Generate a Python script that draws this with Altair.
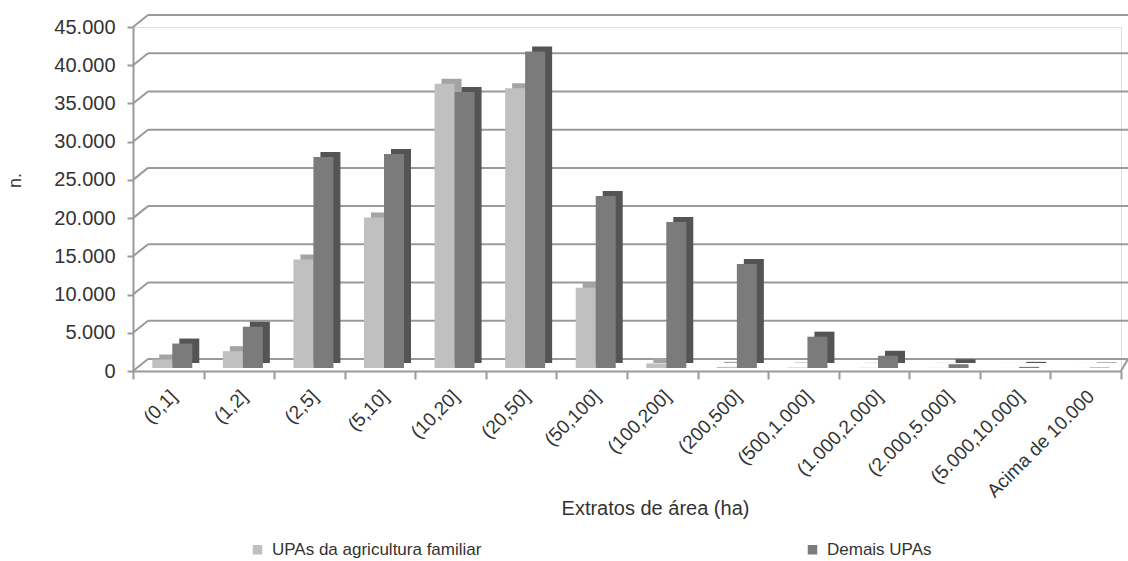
import altair as alt
import pandas as pd

categories = ["(0,1]", "(1,2]", "(2,5]", "(5,10]", "(10,20]", "(20,50]", "(50,100]",
              "(100,200]", "(200,500]", "(500,1.000]", "(1.000,2.000]", "(2.000,5.000]",
              "(5.000,10.000]", "Acima de 10.000"]
familiar = [1100, 2200, 14200, 19700, 37200, 36600, 10500, 600, 150, 60, 30, 20, 10, 5]
demais = [3200, 5400, 27600, 28000, 36100, 41400, 22500, 19100, 13600, 4100, 1600, 500, 150, 60]
series = ["UPAs da agricultura familiar", "Demais UPAs"]
yticks = list(range(0, 45001, 5000))

df_a = pd.DataFrame({"cat": categories, "serie": series[0], "v": familiar})
df_b = pd.DataFrame({"cat": categories, "serie": series[1], "v": demais})
grid = pd.DataFrame({"v": yticks})

W, H = 988, 344
font = "Liberation Sans"
gridcol = "#9a9a9a"
txt = "#333333"

yscale = alt.Scale(domain=[0, 45000])
xenc = alt.X("cat:N", sort=categories, scale=alt.Scale(paddingInner=0, paddingOuter=0),
             axis=alt.Axis(title="Extratos de área (ha)", labelAngle=-45, labelAlign="right",
                           labelBaseline="middle", labelPadding=14, labelOffset=5,
                           labelFontSize=19, labelFont=font, labelColor=txt,
                           tickBand="extent", tickSize=8, tickColor=gridcol, tickWidth=2,
                           domainColor=gridcol, domainWidth=2,
                           titleFont=font, titleFontSize=20, titleFontWeight="normal",
                           titleColor=txt, titleX=522, titleY=137, titleBaseline="middle",
                           grid=False))
yenc = alt.Y("v:Q", scale=yscale,
             axis=alt.Axis(values=yticks,
                           labelExpr="replace(format(datum.value, ',d'), ',', '.')",
                           title="n.", labelFontSize=20,
                           labelFont=font, labelColor=txt, labelPadding=12, tickSize=6,
                           tickColor=gridcol, tickWidth=2, domainColor=gridcol, domainWidth=2,
                           titleFont=font, titleFontSize=18, titleFontWeight="normal",
                           titleColor=txt, titleX=-118, titleY=153, titleAngle=-90,
                           titleAlign="center", titleBaseline="middle", grid=False))

back_h = alt.Chart(grid).mark_rule(color=gridcol, strokeWidth=2, yOffset=-12).encode(
    y=yenc, x=alt.value(15), x2=alt.value(995))
back_d = alt.Chart(grid).mark_rule(color=gridcol, strokeWidth=2, y2Offset=-12).encode(
    y=yenc, y2="v:Q", x=alt.value(0), x2=alt.value(15))
floor_r = alt.Chart(grid.head(1)).mark_rule(color=gridcol, strokeWidth=2, y2Offset=-12).encode(
    y=yenc, y2="v:Q", x=alt.value(988), x2=alt.value(995))

color = alt.Color("serie:N", sort=series,
                  scale=alt.Scale(domain=series, range=["#c0c0c0", "#7b7b7b"]),
                  legend=alt.Legend(title=None, orient="none", legendX=116, legendY=514,
                                    direction="horizontal", symbolType="square",
                                    symbolSize=90, symbolStrokeWidth=0, labelFont=font,
                                    labelFontSize=17, labelColor=txt, labelOffset=6,
                                    columnPadding=322, labelLimit=400))

BW = 20
DX, DY = 7, 5
BASE = -3


def bar(df, off, col=None, depth=False):
    dx = off + (DX if depth else 0)
    dy = BASE - (DY if depth else 0)
    m = alt.Chart(df).mark_bar(width=BW, xOffset=dx, yOffset=dy, y2Offset=dy)
    enc = dict(x=xenc, y=yenc, y2=alt.datum(0))
    enc["color"] = alt.value(col) if depth else color
    return m.encode(**enc)


layers = [
    back_h, back_d, floor_r,
    bar(df_a, -6, "#a4a4a4", True),
    bar(df_b, 14, "#545454", True),
    bar(df_a, -6),
    bar(df_b, 14),
]

chart = alt.layer(*layers).properties(
    width=W, height=H,
    autosize=alt.AutoSizeParams(type="none"),
    padding={"left": 133, "top": 27, "right": 7, "bottom": 190},
).configure_view(stroke=None).configure(background="white")

chart.save("out.html", embed_options={"renderer": "svg", "actions": False})
